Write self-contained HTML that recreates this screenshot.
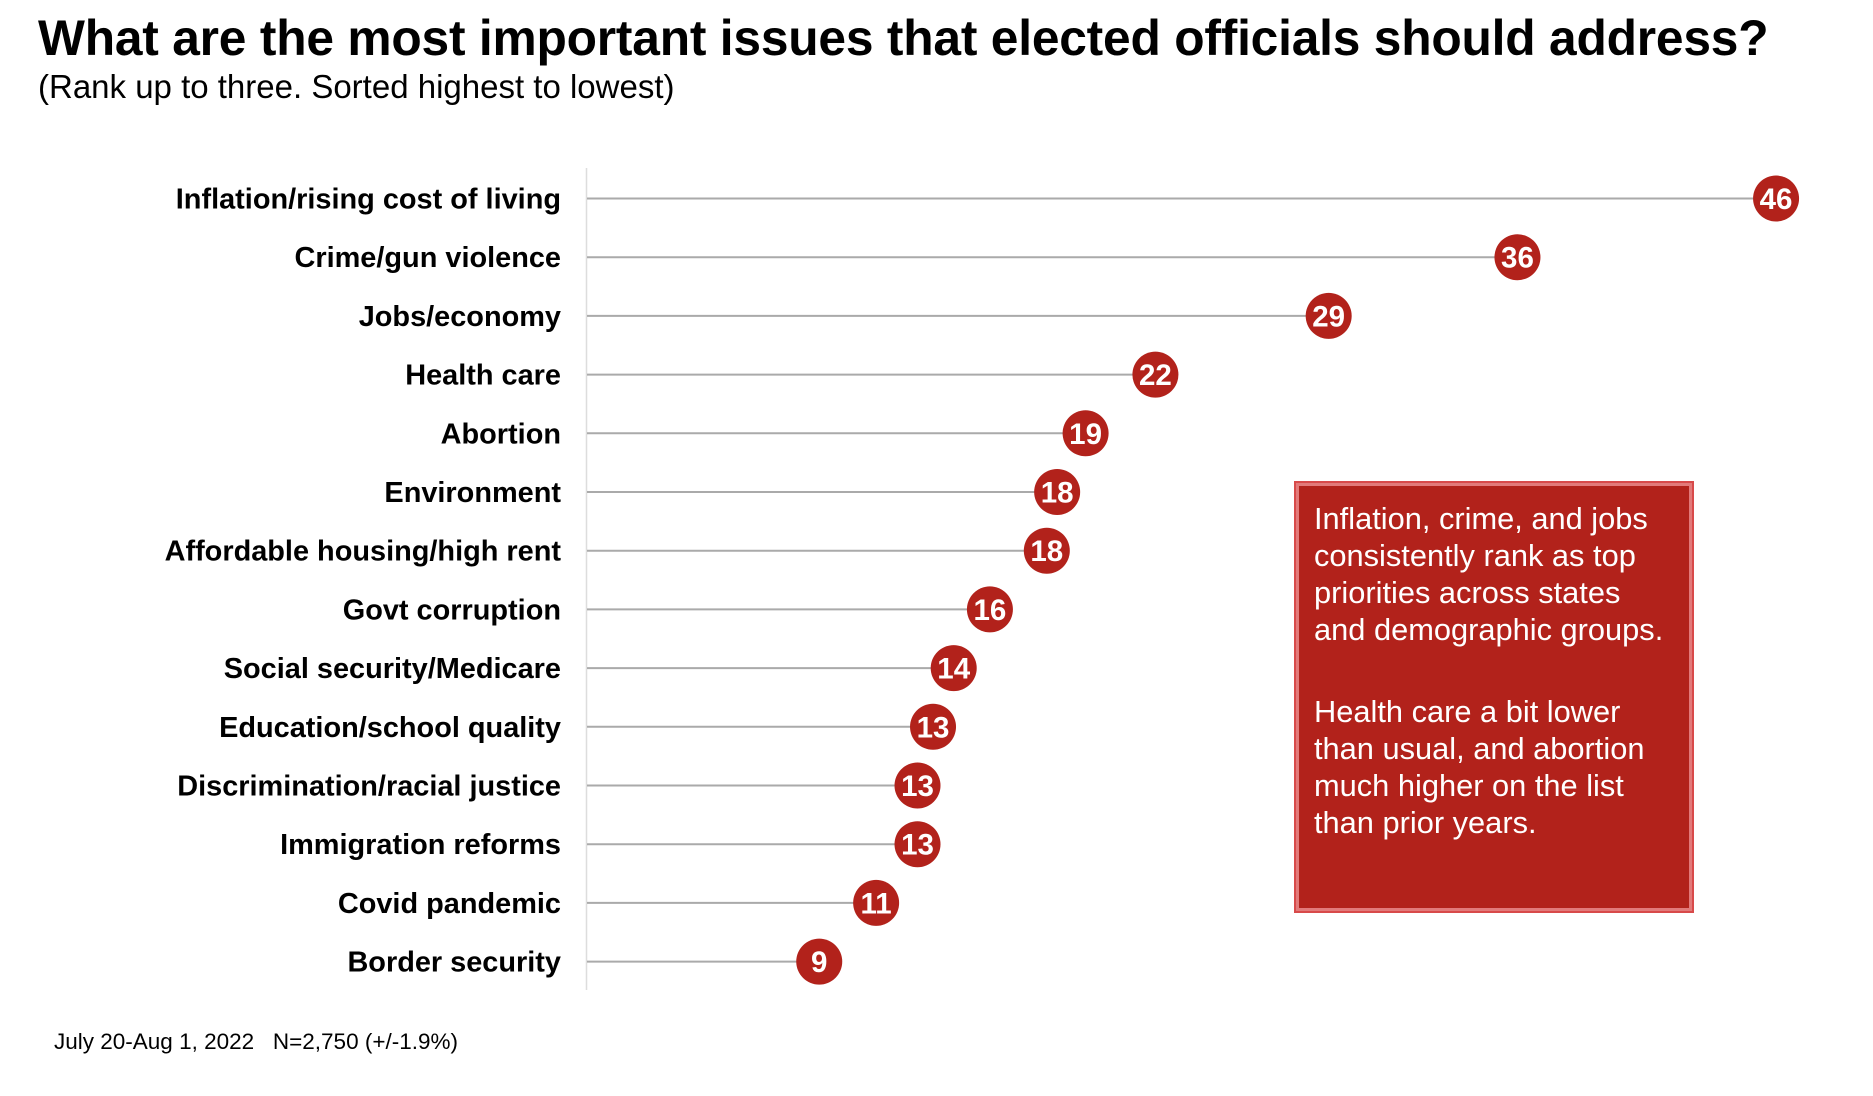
<!DOCTYPE html>
<html><head><meta charset="utf-8">
<style>
body{margin:0;background:#fff;width:1873px;height:1096px;overflow:hidden;font-family:"Liberation Sans",Arial,sans-serif;}
#title{position:absolute;left:38px;top:9px;font-size:49.7px;font-weight:bold;color:#000;white-space:nowrap;letter-spacing:-0.2px}
#sub{position:absolute;left:38px;top:68px;font-size:33px;color:#000;white-space:nowrap}
#note{position:absolute;left:1294px;top:481px;width:400px;height:432px;box-sizing:border-box;background:#b2221b;border:2px solid #d84a4a;box-shadow:inset 0 0 0 3px #e27a7a, inset 0 0 0 6px #b2221b;color:#fff;font-size:30.8px;line-height:37px;padding:17px 16px 0 18px}
#note p{margin:0 0 45px 0}
#foot{position:absolute;left:54px;top:1029px;font-size:22.5px;color:#000;white-space:nowrap}
</style></head><body>
<div id="title">What are the most important issues that elected officials should address?</div>
<div id="sub">(Rank up to three. Sorted highest to lowest)</div>
<svg id="chart" width="1873" height="1096" style="position:absolute;left:0;top:0"></svg>
<div id="note"><p>Inflation, crime, and jobs consistently rank as top priorities across states<br>and demographic groups.</p><p>Health care a bit lower than usual, and abortion much higher on the list than prior years.</p></div>
<div id="foot">July 20-Aug 1, 2022&nbsp;&nbsp; N=2,750 (+/-1.9%)</div>
<script>
const categories=["Inflation/rising cost of living","Crime/gun violence","Jobs/economy","Health care","Abortion","Environment","Affordable housing/high rent","Govt corruption","Social security/Medicare","Education/school quality","Discrimination/racial justice","Immigration reforms","Covid pandemic","Border security"];
const values=[46,36,29,22,19,18,18,16,14,13,13,13,11,9];
const plotValues=[46,36,28.7,22,19.3,18.2,17.8,15.6,14.2,13.4,12.8,12.8,11.2,9];
const NS="http://www.w3.org/2000/svg";
const svg=document.getElementById('chart');
function x(v){return 586.5+v*25.86;}
function y(i){return 198.5+i*58.7;}
function mk(t,a){const e=document.createElementNS(NS,t);for(const k in a)e.setAttribute(k,a[k]);svg.appendChild(e);return e;}
const ax=mk('line',{x1:586.5,y1:168,x2:586.5,y2:990,stroke:'#ddd','stroke-width':1.5});


categories.forEach((c,i)=>{
  const l=mk('text',{x:561,y:y(i)+10,'text-anchor':'end','font-size':28.9,'font-weight':'bold',fill:'#000'});
  l.textContent=c;
  
  
  const ln=mk('line',{x1:587,y1:y(i),x2:x(plotValues[i]),y2:y(i),stroke:'#aaa','stroke-width':2});
  
  
  const ci=mk('circle',{cx:x(plotValues[i]),cy:y(i),r:23,fill:'#b2221b'});
  
  
  const t=mk('text',{x:x(plotValues[i]),y:y(i)+10.5,'text-anchor':'middle','font-size':29.5,'font-weight':'bold',fill:'#fff'});
  t.textContent=values[i];
  
  
});
</script>
</body></html>
